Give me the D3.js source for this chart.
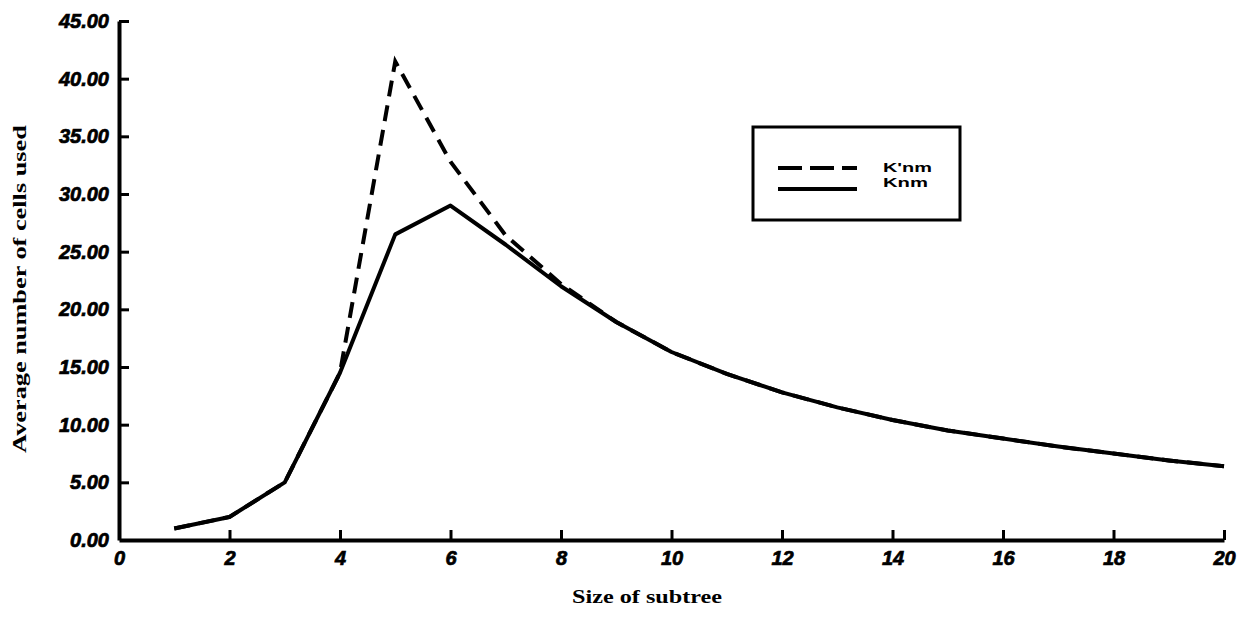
<!DOCTYPE html>
<html lang="en">
<head>
<meta charset="UTF-8">
<title>Average number of cells used</title>
<script src="https://d3js.org/d3.v7.min.js"></script>
<style>
  body { margin: 0; background: #fff; }
  .tick text { font-family: "Liberation Sans", Arial, sans-serif; font-weight: bold; font-style: italic; font-size: 20px; stroke: #000; stroke-width: 0.7px; }
  .title { font-family: "Liberation Serif", "Times New Roman", serif; font-size: 18px; font-weight: bold; }
  .legend text { font-family: "Liberation Sans", Arial, sans-serif; font-size: 13.5px; font-weight: bold; }
</style>
</head>
<body>
<div id="chart"></div>
<script>
// subtree sizes
var sizes = [1, 2, 3, 4, 5, 6, 7, 8, 9, 10, 11, 12, 13, 14, 15, 16, 17, 18, 19, 20];
// Knm (solid)
var knm = [1.0, 2.0, 5.0, 14.5, 26.5, 29.0, 25.6, 22.0, 18.9, 16.3, 14.4, 12.8, 11.5, 10.4, 9.5, 8.8, 8.1, 7.5, 6.9, 6.4];
// K'nm (dashed)
var kpnm = [1.0, 2.0, 5.0, 14.5, 41.5, 32.8, 26.4, 22.2, 18.9, 16.3, 14.4, 12.8, 11.5, 10.4, 9.5, 8.8, 8.1, 7.5, 6.9, 6.4];
var xTicks = [0, 2, 4, 6, 8, 10, 12, 14, 16, 18, 20];
var yTicks = [0, 5, 10, 15, 20, 25, 30, 35, 40, 45];

var width = 1245, height = 617;
var svg = d3.select("#chart").append("svg")
    .attr("width", width)
    .attr("height", height);

var x = d3.scaleLinear().domain([0, 20]).range([119, 1224]);
var y = d3.scaleLinear().domain([0, 45]).range([540, 21]);

// the scanned text is wider than the fonts we have, so stretch it sideways
function stretchText(sel, cx, cy, rot, targetWidth) {
    var w = sel.node().getComputedTextLength();
    sel.attr("text-anchor", "middle")
       .attr("transform", "translate(" + cx + "," + cy + ") rotate(" + rot + ") scale(" + (targetWidth / w) + ",1)");
}

// x axis
var xAxis = svg.append("g")
    .attr("transform", "translate(0," + y(0) + ")")
    .call(d3.axisTop(x).tickValues(xTicks).tickSize(10).tickSizeOuter(0).tickFormat(d3.format("d")));
xAxis.select(".domain").attr("stroke-width", 4);
xAxis.selectAll(".tick line").attr("stroke-width", 3).attr("y2", d => d === 0 ? 0 : -10);
xAxis.selectAll(".tick text").attr("y", 11).attr("dy", "0.71em");

// y axis
var yAxis = svg.append("g")
    .attr("transform", "translate(" + x(0) + ",0)")
    .call(d3.axisRight(y).tickValues(yTicks).tickSize(10).tickSizeOuter(0).tickFormat(d3.format(".2f")));
yAxis.select(".domain").attr("stroke-width", 4);
yAxis.selectAll(".tick line").attr("stroke-width", 3).attr("x2", d => d === 0 ? 0 : 10);
yAxis.selectAll(".tick text").attr("x", -10).attr("text-anchor", "end");

// lines
var line = d3.line().x((d, i) => x(sizes[i])).y(d => y(d));

svg.append("path")
    .datum(kpnm)
    .attr("d", line)
    .attr("fill", "none")
    .attr("stroke", "#000")
    .attr("stroke-width", 4)
    .attr("stroke-dasharray", "16,9");

svg.append("path")
    .datum(knm)
    .attr("d", line)
    .attr("fill", "none")
    .attr("stroke", "#000")
    .attr("stroke-width", 4)
    .attr("stroke-linejoin", "round");

// axis titles
var yTitle = svg.append("text")
    .attr("class", "title")
    .text("Average number of cells used");
stretchText(yTitle, 26, 289, -90, 328);

var xTitle = svg.append("text")
    .attr("class", "title")
    .text("Size of subtree");
stretchText(xTitle, 647, 603, 0, 150);

// legend
var legend = svg.append("g").attr("class", "legend").attr("transform", "translate(753,127)");
legend.append("rect")
    .attr("width", 207).attr("height", 93)
    .attr("fill", "#fff").attr("stroke", "#000").attr("stroke-width", 3);

var items = [{ name: "K'nm", dash: "24,8", w: 49 }, { name: "Knm", dash: null, w: 45 }];
items.forEach(function (d, i) {
    var ly = 41 + i * 21;
    legend.append("line")
        .attr("x1", 25).attr("x2", 104)
        .attr("y1", ly).attr("y2", ly)
        .attr("stroke", "#000").attr("stroke-width", 4)
        .attr("stroke-dasharray", d.dash);
    var t = legend.append("text").text(d.name);
    var w = t.node().getComputedTextLength();
    t.attr("transform", "translate(130," + (45 + i * 15) + ") scale(" + (d.w / w) + ",1)");
});
</script>
</body>
</html>
